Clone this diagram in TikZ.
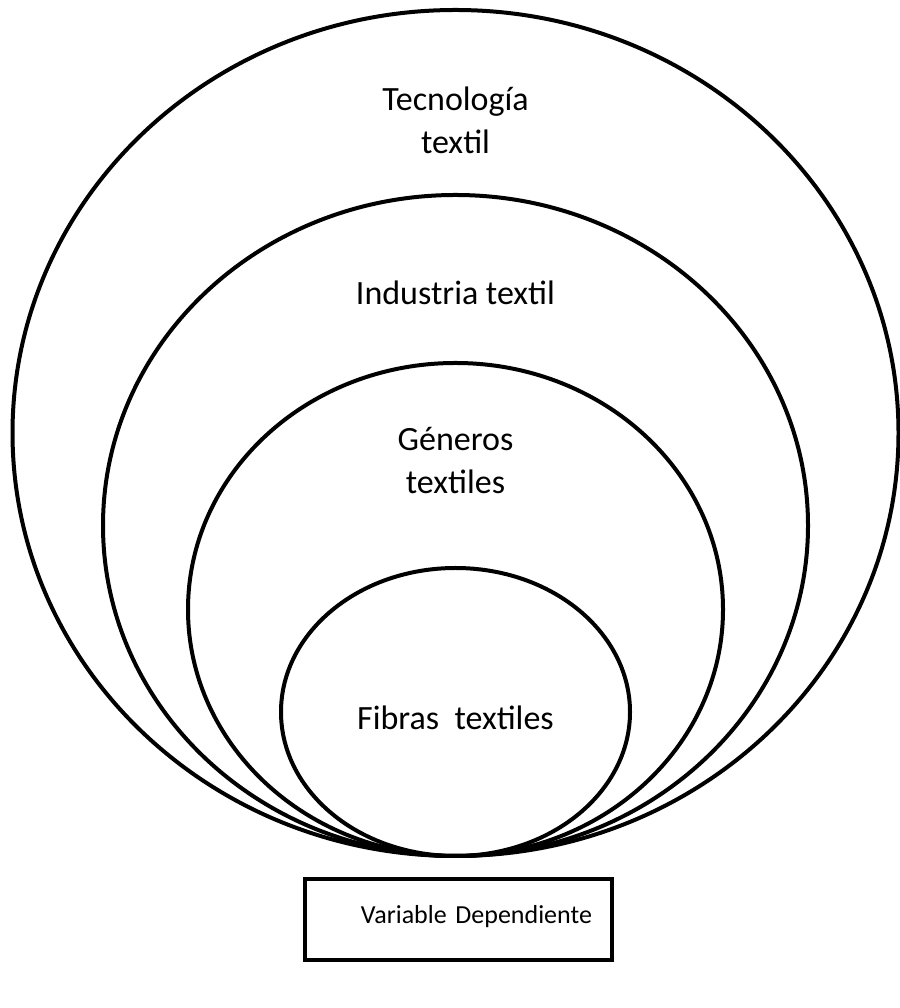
\documentclass[tikz,border=0pt]{standalone}
\usepackage{fontspec}
\setmainfont{Carlito}
\usetikzlibrary{shapes.geometric}
\usetikzlibrary{positioning}

\begin{document}
\begin{tikzpicture}[x=1pt, y=1pt,
                ring/.style = {draw, ellipse, line width=4pt, inner sep=0pt, anchor=south},
                every node/.style = {font=\fontsize{34}{43}\selectfont, align=center},
                vdbox/.style = {draw, rectangle, line width=4.5pt, inner xsep=20pt, inner ysep=0pt,
                                text width=267pt, align=right, text height=44pt, text depth=37pt,
                                font=\fontsize{26}{31}\selectfont}]
                \useasboundingbox (0,0) rectangle (899,1008);
                \coordinate (base) at (455.5,150);
                \node[ring, minimum width=886pt, minimum height=846pt] (tecno) at (base) {};
                \node[ring, minimum width=705pt, minimum height=661pt] (indus) at (base) {};
                \node[ring, minimum width=535pt, minimum height=493pt] (generos) at (base) {};
                \node[ring, minimum width=349pt, minimum height=288pt] (fibras) at (base) {};
                \node (ltecno) at ([yshift=-112pt]tecno.north) {Tecnolog\'ia\\textil};
                \node (lindus) at ([yshift=-100pt]indus.north) {Industria textil};
                \node (lgeneros) at ([yshift=-100pt]generos.north) {G\'eneros\\textiles};
                \node (lfibras) at ([yshift=-6pt]fibras.center) {Fibras\ \ textiles};
                \node[vdbox, anchor=north] (vardep) at (458.5,131) {Variable Dependiente};
            \end{tikzpicture}
\end{document}
